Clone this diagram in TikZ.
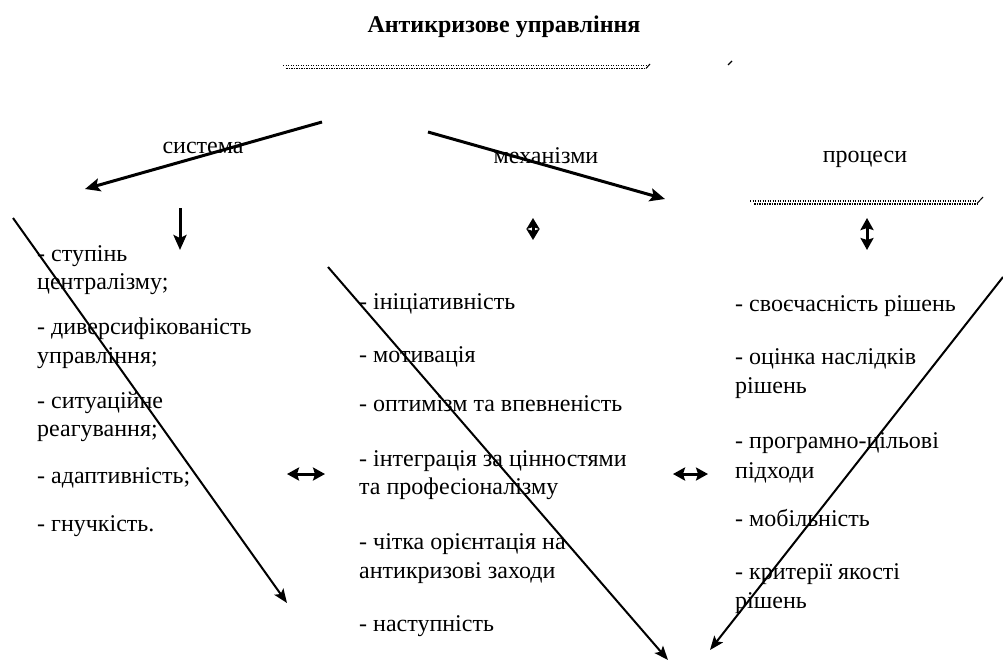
\documentclass[tikz,border=0pt]{standalone}
\usepackage{fontspec}
\setmainfont{Liberation Serif}
\usetikzlibrary{arrows.meta}
\begin{document}
\begin{tikzpicture}[x=1pt,y=-1pt,
  txt/.style={anchor=base west,inner sep=0pt,font=\fontsize{24}{28}\selectfont},
  lbl/.style={anchor=base,inner sep=0pt,font=\fontsize{24}{28}\selectfont},
  bigarrow/.style={line width=3pt,-{Stealth[length=15pt,width=13pt,inset=3pt]}},
  thinarrow/.style={line width=2pt,-{Stealth[length=14pt,width=11pt,inset=3pt]}},
  dblarrow/.style={line width=3pt,{Stealth[length=12pt,width=13pt,inset=2pt]}-{Stealth[length=12pt,width=13pt,inset=2pt]}},
  dotline/.style={line width=1.3pt,dash pattern=on 1.2pt off 1.3pt}
]
\useasboundingbox (0,0) rectangle (1003,662);

% title
\node[anchor=base,inner sep=0pt,font=\fontsize{24}{28}\selectfont\bfseries] (title) at (504,32) {Антикризове управління};
% dotted line under title
\draw[dotline] (283,65.5) -- (648,65.5);
\draw[dotline,dash phase=1.2pt] (285,68.5) -- (646,68.5);
\draw[line width=1pt] (646,68.5) -- (650,64);
\draw[line width=1.3pt] (728,65) -- (732,61);

% headers
\node[lbl] (sys) at (203,153) {система};
\node[lbl] (mech) at (546,163) {механізми};
\node[lbl] (proc) at (865,162) {процеси};

% dotted line under процеси
\draw[dotline] (750,201) -- (977,201);
\draw[dotline,dash phase=1.2pt] (753,204) -- (977,204);
\draw[line width=1pt] (977,203.5) -- (983,197);

% top arrows
\coordinate (a1s) at (322,122); \coordinate (a1e) at (85,189);
\coordinate (a2s) at (428,132); \coordinate (a2e) at (665,199);
\draw[bigarrow] (a1s) -- (a1e);
\draw[bigarrow] (a2s) -- (a2e);

% down arrow
\coordinate (d1s) at (180,208); \coordinate (d1e) at (180,250);
\draw[bigarrow] (d1s) -- (d1e);

% small vertical double arrows
\coordinate (v1s) at (533,218); \coordinate (v1e) at (533,240);
\draw[line width=3pt,{Stealth[length=11pt,width=13pt,inset=2pt]}-{Stealth[length=11pt,width=13pt,inset=2pt]}] (v1s) -- (v1e);
\coordinate (v2s) at (867,218); \coordinate (v2e) at (867,250);
\draw[dblarrow] (v2s) -- (v2e);

% horizontal double arrows
\coordinate (h1s) at (287,474); \coordinate (h1e) at (325,474);
\draw[dblarrow] (h1s) -- (h1e);
\coordinate (h2s) at (673,474); \coordinate (h2e) at (708,474);
\draw[dblarrow] (h2s) -- (h2e);

% left column
\node[txt] (l1) at (37,261) {- ступінь};
\node[txt] (l1b) at (37,289) {централізму;};
\node[txt] (l2) at (37,334) {- диверсифікованість};
\node[txt] (l2b) at (37,363) {управління;};
\node[txt] (l3) at (37,408) {- ситуаційне};
\node[txt] (l3b) at (37,436) {реагування;};
\node[txt] (l4) at (37,483) {- адаптивність;};
\node[txt] (l5) at (37,531) {- гнучкість.};

% middle column
\node[txt] (m1) at (359,309) {- ініціативність};
\node[txt] (m2) at (359,362) {- мотивація};
\node[txt] (m3) at (359,411) {- оптимізм та впевненість};
\node[txt] (m4) at (359,466) {- інтеграція за цінностями};
\node[txt] (m4b) at (359,494) {та професіоналізму};
\node[txt] (m5) at (359,549) {- чітка орієнтація на};
\node[txt] (m5b) at (359,578) {антикризові заходи};
\node[txt] (m6) at (359,631) {- наступність};

% right column
\node[txt] (r1) at (735,311) {- своєчасність рішень};
\node[txt] (r2) at (735,364) {- оцінка наслідків};
\node[txt] (r2b) at (735,393) {рішень};
\node[txt] (r3) at (735,448) {- програмно-цільові};
\node[txt] (r3b) at (735,478) {підходи};
\node[txt] (r4) at (735,526) {- мобільність};
\node[txt] (r5) at (735,579) {- критерії якості};
\node[txt] (r5b) at (735,608) {рішень};

% long diagonal arrows
\coordinate (la) at (13,218); \coordinate (lae) at (287,603);
\draw[thinarrow] (la) -- (lae);
\coordinate (lb) at (328,267); \coordinate (lbe) at (668,660);
\draw[thinarrow] (lb) -- (lbe);
\coordinate (lc) at (1003,277); \coordinate (lce) at (710,650);
\draw[thinarrow] (lc) -- (lce);
\end{tikzpicture}
\end{document}
